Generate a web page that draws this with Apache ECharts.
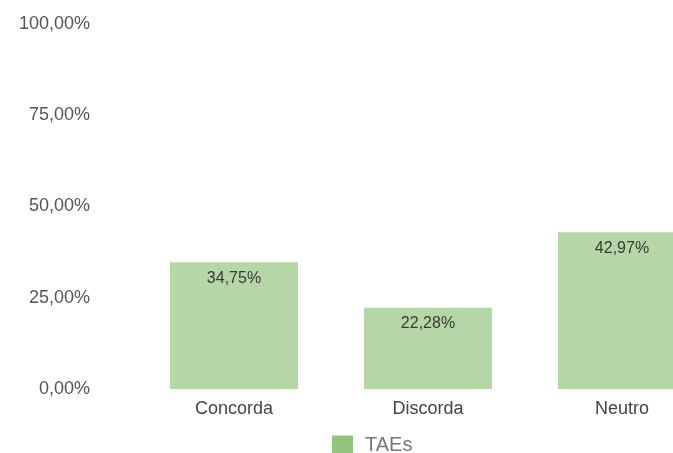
<!DOCTYPE html>
<html>
<head>
<meta charset="utf-8">
<script src="https://cdn.jsdelivr.net/npm/echarts@6/dist/echarts.min.js"></script>
<style>
  html, body { margin: 0; padding: 0; background: #fff; overflow: hidden; }
  #chart { width: 673px; height: 453px; }
</style>
</head>
<body>
<div id="chart"></div>
<script>
// Survey answers (percent of respondents)
const categories = ['Concorda', 'Discorda', 'Neutro'];
const taesValues = [34.75, 22.28, 42.97];
const yTicks = [0, 25, 50, 75, 100];

const fmt = v => v.toFixed(2).replace('.', ',') + '%';

const chart = echarts.init(document.getElementById('chart'));
chart.setOption({
  animation: false,
  textStyle: { fontFamily: '"Liberation Sans", Arial, sans-serif' },
  // plot area runs past the right edge, so the last bar is cut off
  grid: { left: 137, right: -46, top: 24, bottom: 64, outerBoundsMode: 'none', containLabel: false },
  legend: {
    top: 430,
    left: 327,
    itemWidth: 21,
    itemHeight: 19,
    textStyle: { color: '#777', fontSize: 20, padding: [0, 0, 0, 7] },
    data: [{ name: 'TAEs', icon: 'rect', itemStyle: { color: '#93c47d' } }]
  },
  xAxis: {
    type: 'category',
    data: categories,
    axisLine: { show: false },
    axisTick: { show: false },
    axisLabel: { color: '#444', fontSize: 18, margin: 11 }
  },
  yAxis: {
    type: 'value',
    min: yTicks[0],
    max: yTicks[yTicks.length - 1],
    interval: 25,
    splitLine: { show: false },
    axisLine: { show: false },
    axisTick: { show: false },
    axisLabel: { color: '#555', fontSize: 18, margin: 47, formatter: v => fmt(v) }
  },
  series: [{
    name: 'TAEs',
    type: 'bar',
    data: taesValues,
    barWidth: '66%',
    itemStyle: { color: '#b5d6a6' },
    label: {
      show: true,
      position: 'insideTop',
      distance: 8,
      color: '#3a3a3a',
      fontSize: 16,
      formatter: p => fmt(p.value)
    }
  }]
});
</script>
</body>
</html>
